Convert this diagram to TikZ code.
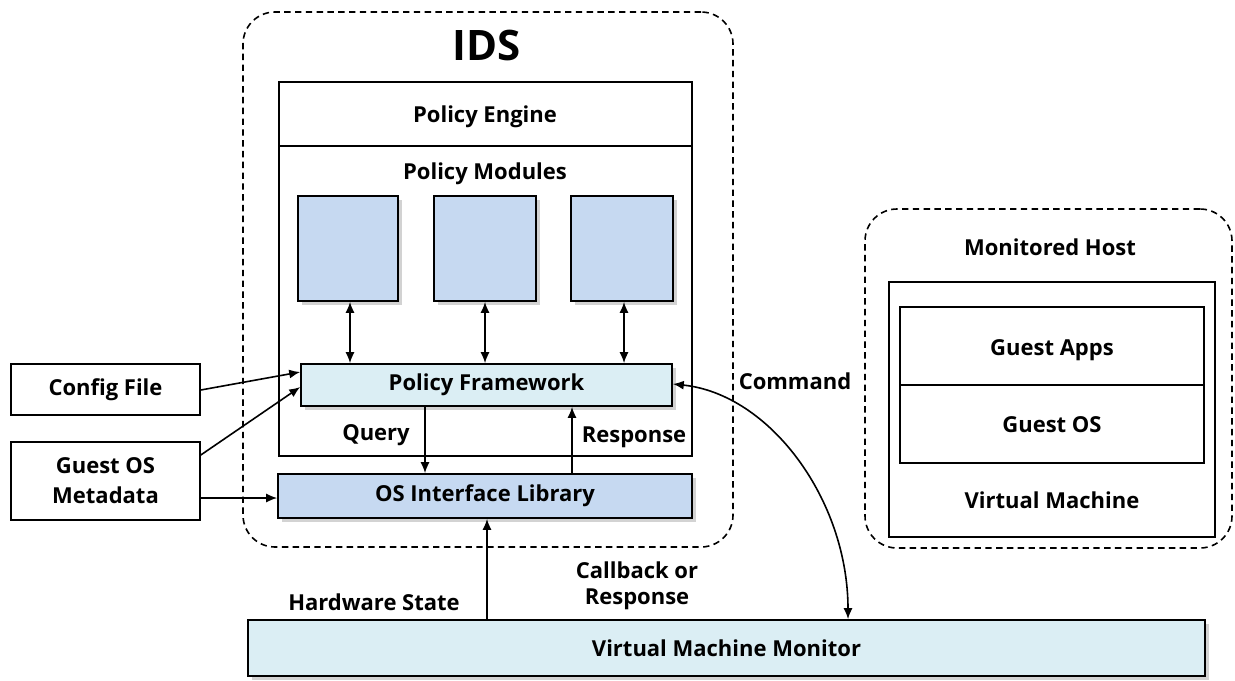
\documentclass[tikz,border=0pt]{standalone}
\usepackage{fontspec}
\setmainfont{Open Sans}
\usetikzlibrary{arrows.meta,fit,shadows}
\definecolor{modblue}{HTML}{C6D9F1}
\definecolor{paleblue}{HTML}{DBEEF4}
\tikzset{
  lbl/.style={font=\bfseries\fontsize{11}{14}\selectfont, align=center},
  box/.style={draw, line width=0.8pt, inner sep=0pt},
  txt/.style={label={[lbl]center:#1}},
  shadowed/.style={drop shadow={shadow xshift=2pt, shadow yshift=-2pt, opacity=0.35, fill=gray}},
  group/.style={draw, dashed, dash pattern=on 3.2pt off 2.2pt, line width=0.8pt, rounded corners=16pt},
  arr/.style={-{Latex[length=5.5pt,width=4.5pt]}, line width=0.8pt},
  darr/.style={{Latex[length=5.5pt,width=4.5pt]}-{Latex[length=5.5pt,width=4.5pt]}, line width=0.8pt},
}
\begin{document}
\begin{tikzpicture}[x=0.5pt,y=-0.5pt]
\useasboundingbox (0,0) rectangle (1235,680);

% IDS container
\node[group, inner sep=0pt, fit={(243,12)(733,547)}] (ids) {};
\node[font=\bfseries\fontsize{21}{24}\selectfont] (idslbl) at (487,45) {IDS};

% Policy engine
\node[box, fill=white, fit={(279,82)(692,456)}] (engine) {};
\draw[line width=0.8pt] (279,146) -- (692,146);
\node[lbl] (pe) at (485,117) {Policy Engine};
\node[lbl] (pm) at (485,174) {Policy Modules};

% Policy modules
\node[box, fill=modblue, shadowed, fit={(298,196)(398,301)}] (m1) {};
\node[box, fill=modblue, shadowed, fit={(434,196)(536,301)}] (m2) {};
\node[box, fill=modblue, shadowed, fit={(571,196)(673,301)}] (m3) {};

% Policy framework
\node[box, fill=paleblue, shadowed, fit={(301,364)(672,406)}, txt={Policy Framework}] (pf) {};

% OS interface library
\node[box, fill=modblue, shadowed, fit={(278,474)(692,518)}, txt={OS Interface Library}] (osil) {};

% Inputs
\node[box, fit={(11,364)(200,415)}, txt={Config File}] (cfg) {};
\node[box, fit={(11,442)(200,520)}, txt={Guest OS\\[1pt]Metadata}] (meta) {};

% Virtual machine monitor
\node[box, fill=paleblue, shadowed, fit={(248,620)(1205,676)}, txt={Virtual Machine Monitor}] (vmm) {};

% Monitored host
\node[group, inner sep=0pt, fit={(865,209)(1232,548)}] (host) {};
\node[lbl] (hostlbl) at (1050,247) {Monitored Host};
\node[box, fit={(889,282)(1215,537)}] (vm) {};
\node[box, fit={(900,307)(1204,463)}] (guest) {};
\draw[line width=0.8pt] (900,385) -- (1204,385);
\node[lbl] (apps) at (1052,350) {Guest Apps};
\node[lbl] (gos) at (1052,425) {Guest OS};
\node[lbl] (vmlbl) at (1052,500) {Virtual Machine};

% Module <-> framework
\draw[darr] (m1.south -| 350,0) -- (pf.north -| 350,0);
\draw[darr] (m2.south -| 485,0) -- (pf.north -| 485,0);
\draw[darr] (m3.south -| 624,0) -- (pf.north -| 624,0);

% Inputs to framework and library
\draw[arr] (cfg.east |- 0,390) -- (pf.west |- 0,372);
\draw[arr] (meta.east |- 0,455) -- (pf.west |- 0,387);
\draw[arr] (meta.east |- 0,498) -- (osil.west |- 0,498);

% Query / response
\draw[arr] (pf.south -| 425,0) -- (osil.north -| 425,0);
\draw[arr] (osil.north -| 572,0) -- (pf.south -| 572,0);
\node[lbl] (q) at (376,435) {Query};
\node[lbl] (r) at (634,437) {Response};

% Hardware state
\draw[arr] (vmm.north -| 487,0) -- (osil.south -| 487,0);
\node[lbl] (hw) at (374,602) {Hardware State};
\node[lbl] (cb) at (637,586) {Callback or\\[-1pt]Response};

% Command / callback path
\draw[darr] (pf.east |- 0,384) .. controls (770,394) and (848,500) .. (vmm.north -| 848,0);
\node[lbl] (cmd) at (795,381) {Command};
\end{tikzpicture}
\end{document}
